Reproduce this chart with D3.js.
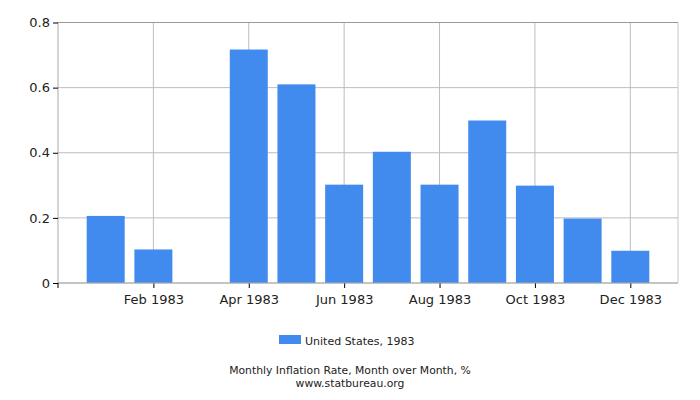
<!DOCTYPE html>
<html>
<head>
<meta charset="utf-8">
<script src="https://cdn.jsdelivr.net/npm/d3@7"></script>
<style>
  body { margin: 0; background: #fff; }
  text { font-family: "DejaVu Sans", Verdana, sans-serif; fill: #222; }
</style>
</head>
<body>
<div class="canvas"></div>
<script>
// data
const months = ['Jan 1983', 'Feb 1983', 'Mar 1983', 'Apr 1983', 'May 1983', 'Jun 1983',
                'Jul 1983', 'Aug 1983', 'Sep 1983', 'Oct 1983', 'Nov 1983', 'Dec 1983'];
const values = [0.206, 0.103, 0, 0.717, 0.610, 0.302, 0.403, 0.302, 0.499, 0.299, 0.198, 0.099];
const tickLabels = ['Feb 1983', 'Apr 1983', 'Jun 1983', 'Aug 1983', 'Oct 1983', 'Dec 1983'];
const yTicks = [0, 0.2, 0.4, 0.6, 0.8];
const seriesName = 'United States, 1983';
const captionLines = ['Monthly Inflation Rate, Month over Month, %', 'www.statbureau.org'];

// plot area edges
const plotLeft = 58, plotRight = 678, plotTop = 22.5, plotBottom = 283;

const svg = d3.select('.canvas').append('svg')
    .attr('width', 700)
    .attr('height', 400);

const x = d3.scalePoint()
    .domain(months)
    .range([plotLeft, plotRight])
    .padding(1);

const y = d3.scaleLinear()
    .domain([0, 0.8])
    .range([plotBottom, plotTop]);

// horizontal grid
svg.append('g')
  .selectAll('line')
  .data(yTicks)
  .join('line')
    .attr('x1', plotLeft).attr('x2', plotRight)
    .attr('y1', d => y(d)).attr('y2', d => y(d))
    .attr('stroke', '#bdbdbd')
    .attr('stroke-width', 1);

// vertical grid at labelled months
svg.append('g')
  .selectAll('line')
  .data(tickLabels)
  .join('line')
    .attr('x1', d => x(d)).attr('x2', d => x(d))
    .attr('y1', plotTop).attr('y2', plotBottom)
    .attr('stroke', '#bdbdbd')
    .attr('stroke-width', 1);

// frame
svg.append('line') // right side
    .attr('x1', plotRight).attr('x2', plotRight)
    .attr('y1', plotTop).attr('y2', plotBottom)
    .attr('stroke', '#c8c8c8');
svg.append('line') // top
    .attr('x1', plotLeft).attr('x2', plotRight)
    .attr('y1', plotTop).attr('y2', plotTop)
    .attr('stroke', '#999');

// bars
const barW = 38;
svg.append('g')
  .selectAll('rect')
  .data(values)
  .join('rect')
    .attr('x', (d, i) => x(months[i]) - barW / 2)
    .attr('width', barW)
    .attr('y', d => y(d))
    .attr('height', d => y(0) - y(d))
    .attr('fill', '#418bef');

// axes
const xAxis = d3.axisBottom(x)
    .tickValues(tickLabels)
    .tickSize(5)
    .tickPadding(7);
const gx = svg.append('g')
    .attr('transform', `translate(0,${plotBottom})`)
    .call(xAxis);
gx.select('.domain').remove();
gx.append('line')
    .attr('x1', plotLeft).attr('x2', plotRight)
    .attr('stroke', '#aaa');
gx.append('line') // small tick under the corner
    .attr('x1', plotLeft).attr('x2', plotLeft)
    .attr('y1', 0).attr('y2', 5)
    .attr('stroke', '#000');
gx.selectAll('.tick line').attr('stroke', '#000');
gx.selectAll('text')
    .style('font-size', '13px')
    .attr('fill', '#222');

const yAxis = d3.axisLeft(y)
    .tickValues(yTicks)
    .tickFormat(d => d === 0 ? '0' : d3.format('.1f')(d))
    .tickSize(5)
    .tickPadding(3);
const gy = svg.append('g')
    .attr('transform', `translate(${plotLeft},0)`)
    .call(yAxis);
gy.select('.domain').attr('stroke', '#aaa').attr('d', `M0,${plotTop}V${plotBottom}`);
gy.selectAll('.tick line').attr('stroke', '#000');
gy.selectAll('text')
    .style('font-size', '13px')
    .attr('fill', '#222');

// legend
const legend = svg.append('g');
legend.append('rect')
    .attr('x', 279).attr('y', 335)
    .attr('width', 22).attr('height', 9)
    .attr('fill', '#418bef');
legend.append('text')
    .attr('x', 305).attr('y', 345)
    .style('font-size', '11px')
    .text(seriesName);

// caption, two tight lines
svg.append('g')
  .selectAll('text')
  .data(captionLines)
  .join('text')
    .attr('x', 350)
    .attr('y', (d, i) => 374 + i * 13)
    .attr('text-anchor', 'middle')
    .style('font-size', '10.8px')
    .text(d => d);
</script>
</body>
</html>
